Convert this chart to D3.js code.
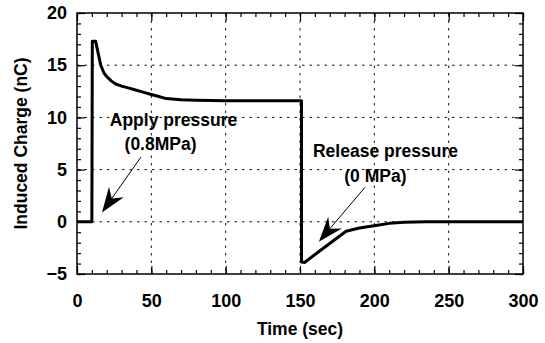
<!DOCTYPE html>
<html>
<head>
<meta charset="utf-8">
<script src="https://cdnjs.cloudflare.com/ajax/libs/d3/7.8.5/d3.min.js"></script>
<style>
  body { margin: 0; background: #fff; }
  svg { font-family: "Liberation Sans", Arial, Helvetica, sans-serif; font-weight: bold; }
  .axis path { display: none; }
  .axis line { stroke: #000; stroke-width: 1.2; }
  .axis text { font-size: 18px; font-weight: bold; fill: #000; }
  .grid line { stroke: #111; stroke-width: 1; stroke-dasharray: 2.5,5; }
</style>
</head>
<body>
<div id="chartDiv"></div>
<script>
// time (sec) and induced charge (nC)
const timeSec = [0, 10, 10.3, 12.5, 14, 16, 18, 20, 23, 26, 30, 35, 40, 45, 50, 55, 60, 70, 80, 100, 120, 151,
                 151, 153, 165, 181, 190, 201, 210, 220, 235, 300];
const chargeNC = [0, 0, 17.3, 17.3, 16.3, 15, 14.3, 13.9, 13.5, 13.2, 13.0, 12.8, 12.6, 12.4, 12.2, 12.0, 11.8, 11.7, 11.65, 11.6, 11.6, 11.6,
                  -3.85, -3.9, -2.6, -0.9, -0.6, -0.35, -0.15, -0.05, 0, 0];

const xMajor = [0, 50, 100, 150, 200, 250, 300];
const yMajor = [-5, 0, 5, 10, 15, 20];
const xMinor = d3.range(0, 301, 10);
const yMinor = d3.range(-5, 21, 1);

// annotations: [tailTime, tailCharge, tipTime, tipCharge]
const arrowApply = [43, 6.2, 16.8, 0.9];
const arrowRelease = [193.7, 3.3, 162.7, -1.9];
// labels: [text, time, charge]
const labels = [
  ['Apply pressure', 64.9, 9.15],
  ['(0.8MPa)', 56.2, 6.9],
  ['Release pressure', 207.5, 6.2],
  ['(0 MPa)', 200.7, 3.8]
];

const width = 545, height = 343;
const svg = d3.select('#chartDiv').append('svg')
  .attr('width', width)
  .attr('height', height);

const x = d3.scaleLinear().domain([0, 300]).range([77, 523]);
const y = d3.scaleLinear().domain([-5, 20]).range([274, 13]);

//grid
const grid = svg.append('g').attr('class', 'grid');
grid.selectAll('.vg').data(xMajor.slice(1, -1)).enter().append('line')
  .attr('x1', d => x(d)).attr('x2', d => x(d))
  .attr('y1', y(20)).attr('y2', y(-5));
grid.selectAll('.hg').data(yMajor.slice(1, -1)).enter().append('line')
  .attr('y1', d => y(d)).attr('y2', d => y(d))
  .attr('x1', x(0)).attr('x2', x(300));

//minor ticks, inward on all four sides
svg.append('g').attr('class', 'axis').attr('transform', `translate(0,${y(-5)})`)
  .call(d3.axisBottom(x).tickValues(xMinor).tickSize(-4).tickFormat(''));
svg.append('g').attr('class', 'axis').attr('transform', `translate(0,${y(20)})`)
  .call(d3.axisTop(x).tickValues(xMinor).tickSize(-4).tickFormat(''));
svg.append('g').attr('class', 'axis').attr('transform', `translate(${x(0)},0)`)
  .call(d3.axisLeft(y).tickValues(yMinor).tickSize(-4).tickFormat(''));
svg.append('g').attr('class', 'axis').attr('transform', `translate(${x(300)},0)`)
  .call(d3.axisRight(y).tickValues(yMinor).tickSize(-4).tickFormat(''));

//major ticks + labels
svg.append('g').attr('class', 'axis').attr('transform', `translate(0,${y(-5)})`)
  .call(d3.axisBottom(x).tickValues(xMajor).tickSize(-8).tickPadding(20));
svg.append('g').attr('class', 'axis').attr('transform', `translate(0,${y(20)})`)
  .call(d3.axisTop(x).tickValues(xMajor).tickSize(-8).tickFormat(''));
svg.append('g').attr('class', 'axis').attr('transform', `translate(${x(0)},0)`)
  .call(d3.axisLeft(y).tickValues(yMajor).tickSize(-8).tickPadding(10));
svg.append('g').attr('class', 'axis').attr('transform', `translate(${x(300)},0)`)
  .call(d3.axisRight(y).tickValues(yMajor).tickSize(-8).tickFormat(''));

//frame
svg.append('rect')
  .attr('x', x(0)).attr('y', y(20))
  .attr('width', x(300) - x(0)).attr('height', y(-5) - y(20))
  .attr('fill', 'none').attr('stroke', '#000').attr('stroke-width', 1.5);

//data line
const line = d3.line().x(d => x(d[0])).y(d => y(d[1]));
svg.append('path')
  .datum(timeSec.map((t, i) => [t, chargeNC[i]]))
  .attr('d', line)
  .attr('fill', 'none')
  .attr('stroke', '#000')
  .attr('stroke-width', 3)
  .attr('stroke-linejoin', 'round');

//arrows
function drawArrow(a) {
  const x0 = x(a[0]), y0 = y(a[1]), x1 = x(a[2]), y1 = y(a[3]);
  const len = Math.hypot(x1 - x0, y1 - y0);
  const ux = (x1 - x0) / len, uy = (y1 - y0) / len;
  const nx = -uy, ny = ux;
  const L = 25, W = 9, notch = 17;
  svg.append('line')
    .attr('x1', x0).attr('y1', y0)
    .attr('x2', x1 - notch * ux).attr('y2', y1 - notch * uy)
    .attr('stroke', '#000').attr('stroke-width', 1);
  const pts = [
    [x1, y1],
    [x1 - L * ux + W * nx, y1 - L * uy + W * ny],
    [x1 - notch * ux, y1 - notch * uy],
    [x1 - L * ux - W * nx, y1 - L * uy - W * ny]
  ];
  svg.append('path')
    .attr('d', 'M' + pts.map(p => p.join(',')).join('L') + 'Z')
    .attr('fill', '#000');
}
drawArrow(arrowApply);
drawArrow(arrowRelease);

svg.selectAll('.ann').data(labels).enter().append('text')
  .attr('x', d => x(d[1]))
  .attr('y', d => y(d[2]))
  .attr('text-anchor', 'middle')
  .attr('font-size', '17.5px')
  .text(d => d[0]);

//axis titles
svg.append('text')
  .attr('x', (x(0) + x(300)) / 2)
  .attr('y', 335)
  .attr('text-anchor', 'middle')
  .attr('font-size', '17.5px')
  .text('Time (sec)');
svg.append('text')
  .attr('transform', `translate(27,${(y(20) + y(-5)) / 2}) rotate(-90)`)
  .attr('text-anchor', 'middle')
  .attr('font-size', '17.5px')
  .text('Induced Charge (nC)');
</script>
</body>
</html>
